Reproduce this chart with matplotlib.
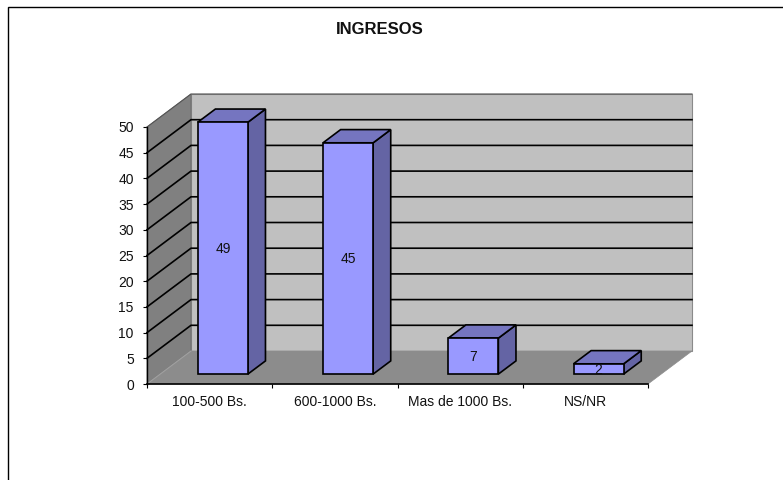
import matplotlib
matplotlib.use("Agg")
import matplotlib.pyplot as plt
from matplotlib.patches import Polygon, Rectangle

categories = ["100-500 Bs.", "600-1000 Bs.", "Mas de 1000 Bs.", "NS/NR"]
values = [49, 45, 7, 2]
y_ticks = [0, 5, 10, 15, 20, 25, 30, 35, 40, 45, 50]

plt.rcParams["font.family"] = ["Liberation Sans", "DejaVu Sans"]

# oblique depth of the fake 3d box, in data units
DX = 44 / 125.25
DY = 33 / 5.14
BAR_W = 0.4


def pt(x, v, d):
    return (x + d * DX, v + d * DY)


def face(ax, pts, color, edge="none", lw=0.0, z=1):
    ax.add_patch(Polygon(pts, closed=True, facecolor=color, edgecolor=edge,
                         linewidth=lw, zorder=z, clip_on=False, joinstyle="miter"))


fig = plt.figure(figsize=(7.83, 4.8), dpi=100)
ax = fig.add_axes([147 / 783, (480 - 384) / 480, 501 / 783, 257 / 480])
ax.set_xlim(0, 4)
ax.set_ylim(0, 50)
ax.patch.set_visible(False)

# outer chart frame
fig.add_artist(Rectangle((8 / 783, -0.02), 1.02, (473 / 480) + 0.02, transform=fig.transFigure,
                         facecolor="none", edgecolor="black", linewidth=1.0))

# walls and floor
top, low = y_ticks[-1], y_ticks[0]
nx = len(categories)
face(ax, [pt(0, low, 1), pt(nx, low, 1), pt(nx, top, 1), pt(0, top, 1)], "#c0c0c0", "#8a8a8a", 0.8)
face(ax, [pt(0, low, 0), pt(0, low, 1), pt(0, top, 1), pt(0, top, 0)], "#808080", "#6a6a6a", 0.6)
face(ax, [pt(0, low, 0), pt(nx, low, 0), pt(nx, low, 1), pt(0, low, 1)], "#8c8c8c", "#8c8c8c", 0.5)
a, b = pt(0, low, 0), pt(0, low, 1)
ax.plot([a[0], b[0]], [a[1], b[1]], color="#a0a0a0", lw=0.8, zorder=1.5, clip_on=False)

# gridlines run along the side wall then the back wall
for v in y_ticks[1:]:
    a, b = pt(0, v, 0), pt(0, v, 1)
    c = pt(nx, v, 1)
    if v == top:
        ax.plot([a[0], b[0], c[0]], [a[1], b[1], c[1]], color="#555555", lw=0.8, zorder=2, clip_on=False)
    else:
        ax.plot([a[0], b[0], c[0]], [a[1], b[1], c[1]], color="black", lw=1.2, zorder=2, clip_on=False)

# bars
base = 0
for i, v in enumerate(values):
    x0 = i + 0.5 - BAR_W / 2
    x1 = i + 0.5 + BAR_W / 2
    d0, d1 = 0.3, 0.7
    face(ax, [pt(x1, base, d0), pt(x1, base, d1), pt(x1, v, d1), pt(x1, v, d0)], "#6464a4", "black", 1.2, 3)
    face(ax, [pt(x0, v, d0), pt(x1, v, d0), pt(x1, v, d1), pt(x0, v, d1)], "#7575c0", "black", 1.2, 3)
    face(ax, [pt(x0, base, d0), pt(x1, base, d0), pt(x1, v, d0), pt(x0, v, d0)], "#9999ff", "black", 1.2, 4)
    ax.annotate(str(v), pt(i + 0.5, v / 2, d0), xytext=(0, -0.5), textcoords="offset points",
                ha="center", va="center", fontsize=10, color="#111111", zorder=5)

for s in ["top", "right"]:
    ax.spines[s].set_visible(False)
ax.spines["left"].set_linewidth(1.0)
ax.spines["bottom"].set_linewidth(1.2)
ax.spines["left"].set_zorder(2.5)

ax.set_yticks(y_ticks)
ax.set_xticks(range(nx + 1))
ax.set_xticklabels([])
ax.set_xticks([i + 0.5 for i in range(nx)], minor=True)
ax.set_xticklabels(categories, minor=True)
ax.tick_params(axis="x", which="minor", length=0, pad=8, labelsize=10, labelcolor="#111111")
ax.tick_params(axis="x", which="major", length=3, width=0.8)
ax.tick_params(axis="y", length=3, width=0.8, pad=6.5, labelsize=10, labelcolor="#111111")

fig.text(380 / 783, 1 - 30 / 480, "INGRESOS", ha="center", va="center",
         fontsize=12, fontweight="bold", color="#111111")

fig.savefig("out.png", dpi=100)
